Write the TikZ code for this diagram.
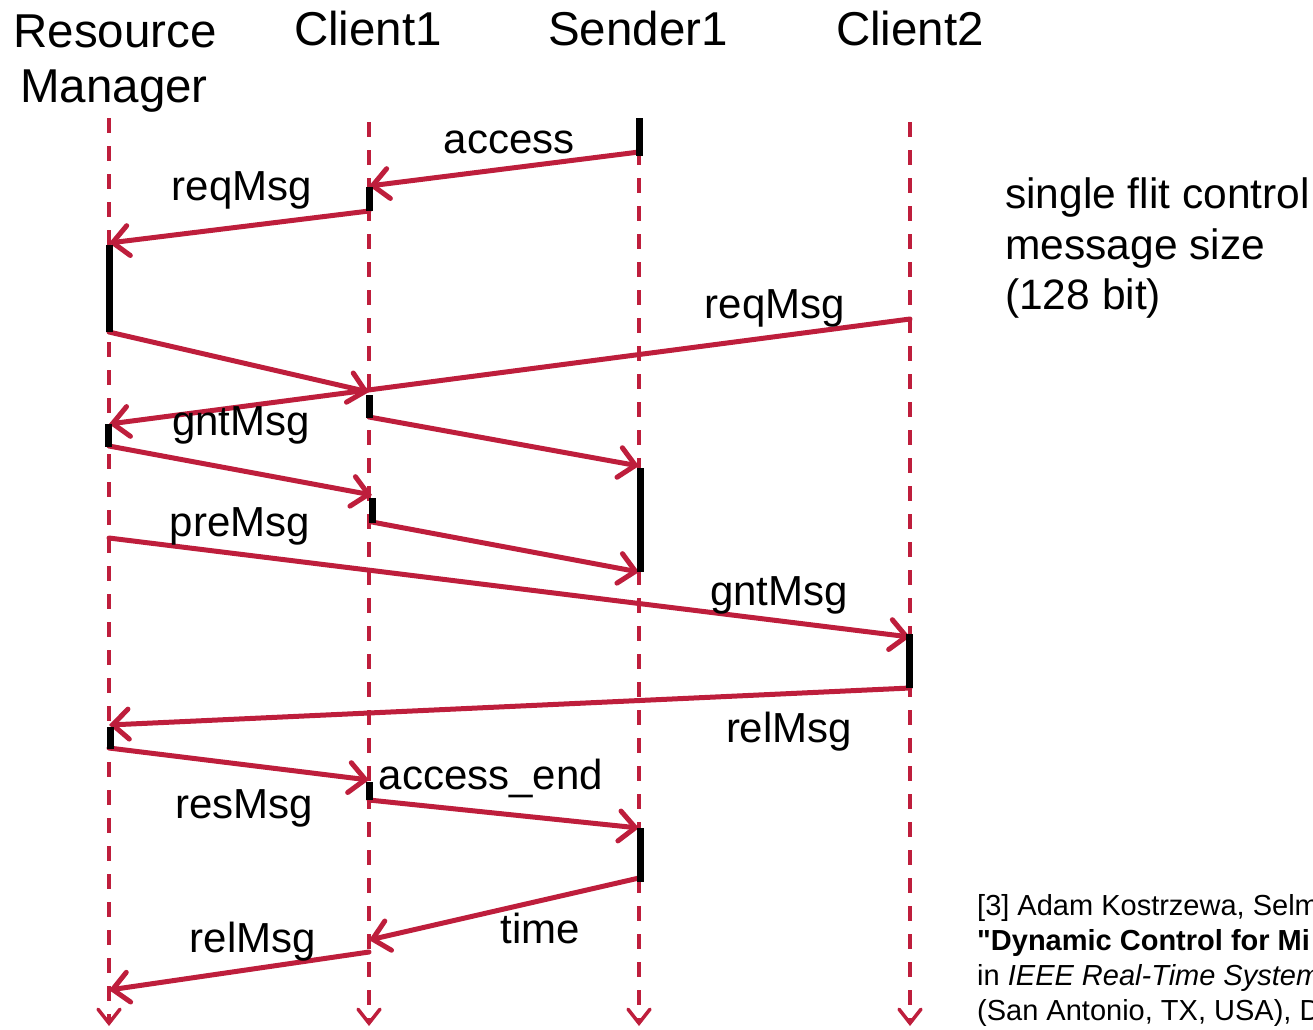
\documentclass[tikz,border=0pt]{standalone}
\usepackage{fontspec}
\setmainfont{Liberation Sans}[Ligatures=TeXOff]
\usetikzlibrary{arrows.meta}
\definecolor{msgred}{RGB}{190,30,60}
\begin{document}
\begin{tikzpicture}[x=1pt,y=-1pt,
  lifeline/.style={msgred, line width=3.5pt, dash pattern=on 15pt off 13pt,
    -{Straight Barb[length=14pt,width=22pt,line cap=round]}},
  msg/.style={msgred, line width=5pt, line cap=round,
    -{Straight Barb[length=16pt,width=30pt,line cap=round]}},
  actbar/.style={black, line width=7pt},
  head/.style={font=\fontsize{47.5}{56}\selectfont, anchor=base, inner sep=0pt},
  lbl/.style={font=\fontsize{42}{50}\selectfont, anchor=base, inner sep=0pt},
  note/.style={font=\fontsize{42.5}{50}\selectfont, anchor=base west, inner sep=0pt},
  cite/.style={font=\fontsize{29}{34}\selectfont, anchor=base west, inner sep=0pt},
]
\useasboundingbox (0,0) rectangle (1313,1029);

% participants
\node[head] (rmA) at (115,47) {Resource};
\node[head] (rmB) at (114,102) {Manager};
\node[head] (c1h) at (368,45) {Client1};
\node[head] (s1h) at (638,45) {Sender1};
\node[head] (c2h) at (910,45) {Client2};

% lifelines
\coordinate (rmT) at (109,118);  \coordinate (rmE) at (109,1026);
\coordinate (c1T) at (369,122);  \coordinate (c1E) at (369,1026);
\coordinate (s1T) at (639,122);  \coordinate (s1E) at (639,1026);
\coordinate (c2T) at (910,122);  \coordinate (c2E) at (910,1026);
\draw[lifeline] (rmT) -- (rmE);
\draw[lifeline] (c1T) -- (c1E);
\draw[lifeline] (s1T) -- (s1E);
\draw[lifeline] (c2T) -- (c2E);

% message end points
\coordinate (m1a) at (639,152);  \coordinate (m1b) at (369,186);
\coordinate (m2a) at (369,211);  \coordinate (m2b) at (109,243);
\coordinate (m3a) at (109,332);  \coordinate (m3b) at (369,392);
\coordinate (m4a) at (910,319);  \coordinate (m4b) at (109,424);
\coordinate (m5a) at (369,417);  \coordinate (m5b) at (639,466);
\coordinate (m6a) at (109,446);  \coordinate (m6b) at (372,495);
\coordinate (m7a) at (372,522);  \coordinate (m7b) at (639,572);
\coordinate (m8a) at (109,538);  \coordinate (m8b) at (910,637);
\coordinate (m9a) at (910,688);  \coordinate (m9b) at (109,725);
\coordinate (m10a) at (109,748); \coordinate (m10b) at (369,780);
\coordinate (m11a) at (369,800); \coordinate (m11b) at (639,828);
\coordinate (m12a) at (639,878); \coordinate (m12b) at (369,940);
\coordinate (m13a) at (369,952); \coordinate (m13b) at (109,990);

% messages
\draw[msg] (m1a) -- (m1b);
\draw[msg] (m2a) -- (m2b);
\draw[msg] (m3a) -- (m3b);
\draw[msg] (m4a) -- (m4b);
\draw[msg] (m5a) -- (m5b);
\draw[msg] (m6a) -- (m6b);
\draw[msg] (m7a) -- (m7b);
\draw[msg] (m8a) -- (m8b);
\draw[msg] (m9a) -- (m9b);
\draw[msg] (m10a) -- (m10b);
\draw[msg] (m11a) -- (m11b);
\draw[msg] (m12a) -- (m12b);
\draw[msg] (m13a) -- (m13b);

% activation bars
\draw[actbar] (639,118) -- (639,156);
\draw[actbar] (369,187) -- (369,211);
\draw[actbar] (109,245) -- (109,332);
\draw[actbar] (369,395) -- (369,418);
\draw[actbar] (108,424) -- (108,447);
\draw[actbar] (372,498) -- (372,523);
\draw[actbar] (640,468) -- (640,572);
\draw[actbar] (909,634) -- (909,688);
\draw[actbar] (110,727) -- (110,749);
\draw[actbar] (369,782) -- (369,800);
\draw[actbar] (640,828) -- (640,882);

% message labels
\node[lbl] (l1)  at (509,153) {access};
\node[lbl] (l2)  at (242,200) {reqMsg};
\node[lbl] (l3)  at (775,318) {reqMsg};
\node[lbl] (l4)  at (241,435) {gntMsg};
\node[lbl] (l5)  at (240,536) {preMsg};
\node[lbl] (l6)  at (779,605) {gntMsg};
\node[lbl] (l7)  at (789,742) {relMsg};
\node[lbl] (l8)  at (491,789) {access\_end};
\node[lbl] (l9)  at (244,818) {resMsg};
\node[lbl] (l10) at (540,943) {time};
\node[lbl] (l11) at (253,952) {relMsg};

% side note
\node[note] (n1) at (1005,208) {single flit control};
\node[note] (n2) at (1005,259) {message size};
\node[note] (n3) at (1005,309) {(128 bit)};

% reference, running off the right edge
\begin{scope}
  \clip (0,0) rectangle (1313,1029);
  \node[cite] (r1) at (977,915) {[3] Adam Kostrzewa, Selm};
  \node[cite] (r2) at (977,950) {\bfseries "Dynamic Control for Mi};
  \node[cite] (r3) at (977,985) {in \itshape IEEE Real-Time System};
  \node[cite] (r4) at (977,1020) {(San Antonio, TX, USA), D};
\end{scope}
\end{tikzpicture}
\end{document}
